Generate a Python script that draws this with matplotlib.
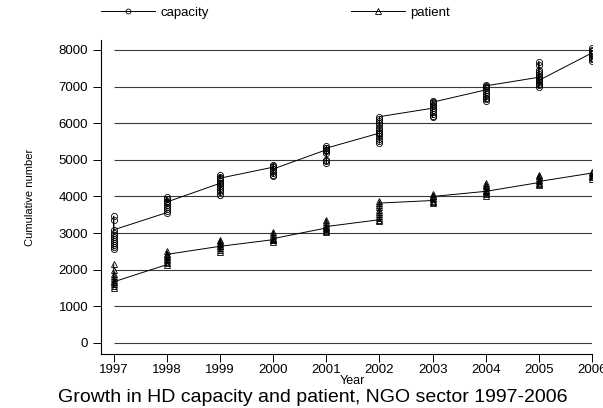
import numpy as np
import matplotlib
matplotlib.use("Agg")
import matplotlib.pyplot as plt

plt.rcParams['font.family'] = ['Liberation Sans', 'DejaVu Sans']

# one list of values per year (first = where the line enters, last = where it leaves)
years = [1997, 1998, 1999, 2000, 2001, 2002, 2003, 2004, 2005, 2006]

capacity = [
    [2560, 2620, 2680, 2730, 2790, 2850, 2900, 2960, 3010, 3460, 3370, 3090],
    [3560, 3600, 3660, 3710, 3770, 3820, 3880, 3930, 3990, 3850],
    [4360, 4050, 4110, 4170, 4230, 4290, 4350, 4420, 4480, 4540, 4580, 4500],
    [4800, 4550, 4600, 4650, 4700, 4760, 4820, 4860, 4750],
    [5275, 4910, 4960, 5000, 5190, 5230, 5280, 5320, 5365, 5320],
    [5730, 5460, 5520, 5580, 5640, 5700, 5760, 5820, 5880, 5940, 6000, 6060, 6120, 6180],
    [6410, 6160, 6210, 6260, 6310, 6360, 6460, 6510, 6560, 6610, 6575],
    [6910, 6600, 6650, 6700, 6750, 6800, 6850, 6960, 7000, 7045, 7020],
    [7255, 7000, 7040, 7080, 7120, 7170, 7220, 7290, 7340, 7400, 7450, 7590, 7680, 7170],
    [7920, 7690, 7740, 7790, 7840, 7880, 7960, 8000, 8045],
]

patient = [
    [2160, 1980, 1870, 1820, 1770, 1720, 1660, 1610, 1560, 1510, 1670],
    [2140, 2180, 2220, 2260, 2300, 2340, 2380, 2440, 2520, 2420],
    [2640, 2480, 2530, 2580, 2690, 2740, 2780, 2820, 2640],
    [2820, 2750, 2800, 2880, 2930, 2980, 3040, 2850],
    [3140, 3020, 3070, 3110, 3200, 3250, 3300, 3365, 3180],
    [3365, 3320, 3400, 3460, 3520, 3580, 3640, 3700, 3760, 3865, 3820],
    [3890, 3820, 3860, 3930, 3970, 4020, 4065, 4000],
    [4140, 4020, 4070, 4110, 4180, 4230, 4280, 4320, 4365, 4140],
    [4380, 4300, 4340, 4450, 4500, 4550, 4590, 4410],
    [4640, 4475, 4520, 4560, 4600, 4680],
]

yticks = [0, 1000, 2000, 3000, 4000, 5000, 6000, 7000, 8000]


def flatten(groups):
    xs, ys = [], []
    for yr, vals in zip(years, groups):
        xs += [yr] * len(vals)
        ys += vals
    return np.array(xs), np.array(ys)


cap_x, cap_y = flatten(capacity)
pat_x, pat_y = flatten(patient)

fig = plt.figure(figsize=(6.03, 4.08), dpi=100)
ax = fig.add_axes([0.1683, 0.1324, 0.8135, 0.7698])

# horizontal grid lines only over the data range
ax.hlines(yticks, years[0], years[-1], colors='#3a3a3a', linewidth=0.8, zorder=1)

l1, = ax.plot(cap_x, cap_y, color='black', linewidth=0.7, marker='o', markersize=4.4,
              markerfacecolor='none', markeredgecolor='black', markeredgewidth=0.6,
              label='capacity', zorder=3)
l2, = ax.plot(pat_x, pat_y, color='black', linewidth=0.7, marker='^', markersize=4.6,
              markerfacecolor='none', markeredgecolor='black', markeredgewidth=0.6,
              label='patient', zorder=3)

ax.set_xlim(1996.77, 2006.0)
ax.set_ylim(-300, 8275)
ax.set_xticks(years)
ax.set_yticks(yticks)
ax.tick_params(axis='both', direction='out', length=5.5, width=0.7, labelsize=9.5)
ax.tick_params(axis='x', pad=2)
ax.tick_params(axis='y', pad=4)
for s in ['top', 'right']:
    ax.spines[s].set_visible(False)
for s in ['left', 'bottom']:
    ax.spines[s].set_linewidth(0.8)

ax.legend(handles=[l1, l2], loc='center left', ncol=2, frameon=False,
          bbox_to_anchor=(101 / 603, 395 / 408), bbox_transform=fig.transFigure,
          borderpad=0, borderaxespad=0, handlelength=4.1, handletextpad=0.4,
          columnspacing=10.8, numpoints=1, fontsize=9.5, markerscale=0.8)

fig.text(352 / 603, (408 - 381) / 408, 'Year', ha='center', va='center', fontsize=9)
fig.text(30 / 603, (408 - 197) / 408, 'Cumulative number', rotation=90,
         ha='center', va='center', fontsize=8)
fig.text(313 / 603, (408 - 397) / 408,
         'Growth in HD capacity and patient, NGO sector 1997-2006',
         ha='center', va='center', fontsize=14)

fig.savefig('out.png', dpi=100)
